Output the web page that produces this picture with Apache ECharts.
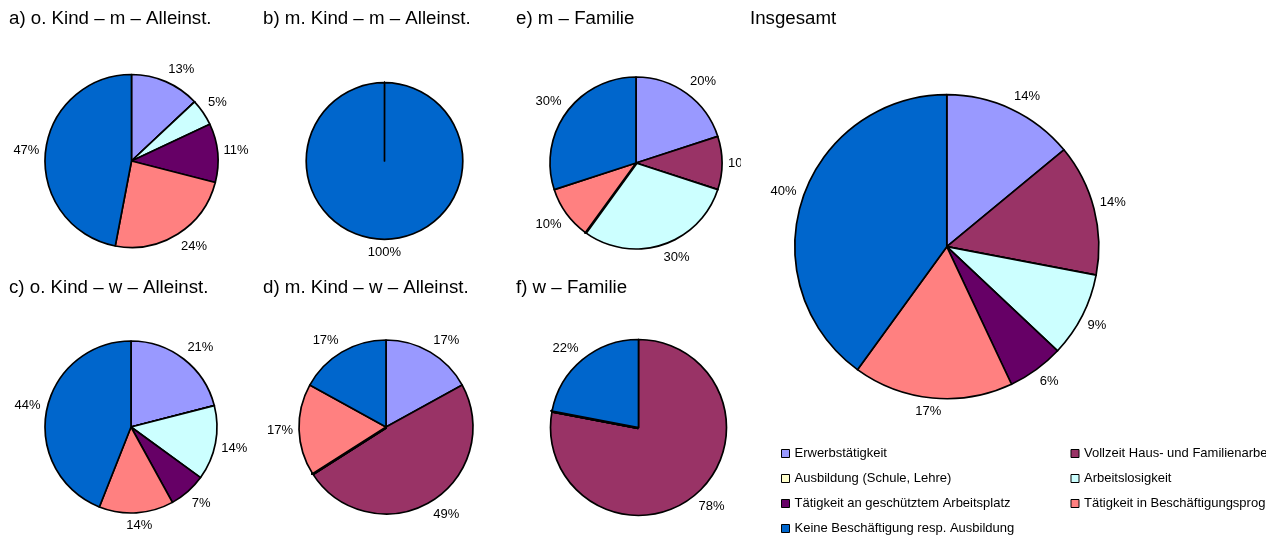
<!DOCTYPE html>
<html>
<head>
<meta charset="utf-8">
<script src="https://cdn.jsdelivr.net/npm/echarts@6/dist/echarts.min.js"></script>
<style>
  html, body { margin: 0; padding: 0; background: #fff; width: 1266px; height: 539px; overflow: hidden; }
  .panel { position: absolute; }
</style>
</head>
<body>
<script>
// Categories (clockwise from 12 o'clock) and their fill colours
const categories = [
  'Erwerbstätigkeit',
  'Vollzeit Haus- und Familienarbeit',
  'Ausbildung (Schule, Lehre)',
  'Arbeitslosigkeit',
  'Tätigkeit an geschütztem Arbeitsplatz',
  'Tätigkeit in Beschäftigungsprogramm',
  'Keine Beschäftigung resp. Ausbildung'
];
const colors = ['#9999FF', '#993366', '#FFFFCC', '#CCFFFF', '#660066', '#FF8080', '#0066CC'];

const panelTitles = [
  'a) o. Kind – m – Alleinst.',
  'b) m. Kind – m – Alleinst.',
  'e) m – Familie',
  'Insgesamt',
  'c) o. Kind – w – Alleinst.',
  'd) m. Kind – w – Alleinst.',
  'f) w – Familie'
];

// Shares in percent, one entry per category
const valuesA = [13, 0, 0, 5, 11, 24, 47];
const valuesB = [0, 0, 0, 0, 0, 0, 100];
const valuesE = [20, 10, 0, 30, 0, 10, 30];
const valuesTotal = [14, 14, 0, 9, 6, 17, 40];
const valuesC = [21, 0, 0, 14, 7, 14, 44];
const valuesD = [17, 49, 0, 0, 0, 17, 17];
const valuesF = [0, 78, 0, 0, 0, 0, 22];

const FONT = "'Liberation Sans', Arial, sans-serif";

// Each chart sits in its own box; text running past a box edge is cut off there
const panels = [
  { title: panelTitles[0], values: valuesA,     box: [0, 0, 255, 270],     center: [131.5, 161],   radius: 86.5, titleLeft: 9 },
  { title: panelTitles[1], values: valuesB,     box: [255, 0, 245, 270],   center: [129.5, 161],   radius: 78.3, titleLeft: 8 },
  { title: panelTitles[2], values: valuesE,     box: [500, 0, 241, 270],   center: [136, 163],     radius: 86,   titleLeft: 16 },
  { title: panelTitles[3], values: valuesTotal, box: [741, 0, 525, 539],   center: [205.8, 246.7], radius: 152,  titleLeft: 9, legend: true },
  { title: panelTitles[4], values: valuesC,     box: [0, 270, 255, 269],   center: [131, 157],     radius: 86,   titleLeft: 9 },
  { title: panelTitles[5], values: valuesD,     box: [255, 270, 245, 269], center: [131, 157],     radius: 87,   titleLeft: 8 },
  { title: panelTitles[6], values: valuesF,     box: [500, 270, 241, 269], center: [138.5, 157.5], radius: 88,   titleLeft: 16 }
];

// Labels sit just outside the rim; their box is pushed toward the side the slice faces
const LABEL_GAP = 6;
function clamp1(v) { return Math.max(-1, Math.min(1, v)); }

panels.forEach(function (p) {
  const div = document.createElement('div');
  div.className = 'panel';
  div.style.left = p.box[0] + 'px';
  div.style.top = p.box[1] + 'px';
  div.style.width = p.box[2] + 'px';
  div.style.height = p.box[3] + 'px';
  document.body.appendChild(div);

  const chart = echarts.init(div, null, { renderer: 'canvas' });
  const total = p.values.reduce(function (s, v) { return s + v; }, 0);
  let before = 0;
  const data = categories.map(function (name, i) {
    const v = p.values[i];
    // an empty category on the left half of the disc shows as a heavy spoke
    const heavy = v === 0 && before >= total / 2;
    before += v;
    return {
      name: name,
      value: v,
      itemStyle: heavy
        ? { color: colors[i], borderWidth: 3.6, borderJoin: 'bevel' }
        : { color: colors[i] },
      label: { show: v > 0 }
    };
  });

  const option = {
    animation: false,
    title: {
      text: p.title,
      left: p.titleLeft,
      top: p.box[1] === 0 ? 9 : 8,
      padding: 0,
      textStyle: { fontFamily: FONT, fontSize: 18.7, fontWeight: 'normal', color: '#000' }
    },
    series: [{
      type: 'pie',
      silent: true,
      center: p.center,
      radius: p.radius,
      startAngle: 90,
      clockwise: true,
      minAngle: 0.01,
      avoidLabelOverlap: false,
      emphasis: { disabled: true },
      itemStyle: { borderColor: '#000', borderWidth: 1.7 },
      label: {
        position: 'outside',
        formatter: '{c}%',
        fontFamily: FONT,
        fontSize: 13,
        color: '#000'
      },
      labelLine: { show: false },
      labelLayout: function (params) {
        const seriesData = chart.getModel().getSeriesByIndex(params.seriesIndex).getData();
        const lay = seriesData.getItemLayout(params.dataIndex);
        if (!lay) return {};
        const mid = (lay.startAngle + lay.endAngle) / 2;
        const ux = Math.cos(mid), uy = Math.sin(mid);
        const w = params.labelRect.width, h = 14;
        const x = lay.cx + ux * (lay.r + LABEL_GAP) + clamp1(3 * ux) * w / 2;
        const y = lay.cy + uy * (lay.r + LABEL_GAP) + clamp1(3 * uy) * h / 2;
        return { x: x, y: y, align: 'center', verticalAlign: 'middle' };
      },
      data: data
    }]
  };

  if (p.legend) {
    option.legend = {
      data: categories,
      orient: 'horizontal',
      left: 40,
      top: 441,
      width: 580,
      padding: 0,
      itemGap: 0,
      itemWidth: 8,
      itemHeight: 8,
      icon: 'rect',
      selectedMode: false,
      itemStyle: { borderColor: '#000', borderWidth: 1 },
      textStyle: { fontFamily: FONT, fontSize: 13, color: '#000', width: 276, lineHeight: 25 }
    };
  }

  chart.setOption(option);
});
</script>
</body>
</html>
